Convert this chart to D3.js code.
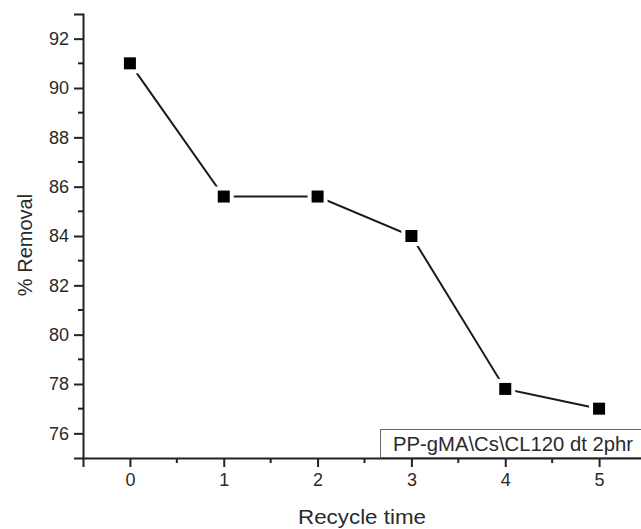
<!DOCTYPE html>
<html>
<head>
<meta charset="utf-8">
<script src="https://cdn.jsdelivr.net/npm/d3@7"></script>
<style>
  body { margin: 0; background: #fff; }
  text { font-family: "Liberation Sans", Arial, sans-serif; fill: #2a2a2a; }
</style>
</head>
<body>
<svg width="641" height="529"></svg>
<script>
// data
const cycles = [0, 1, 2, 3, 4, 5]
const removal = [91.0, 85.6, 85.6, 84.0, 77.8, 77.0]
const xTicks = [0, 1, 2, 3, 4, 5]
const yTicks = [76, 78, 80, 82, 84, 86, 88, 90, 92]
const seriesName = "PP-gMA\\Cs\\CL120 dt 2phr"

const svg = d3.select("svg")

// scales
const xScale = d3.scaleLinear().domain([-0.5, 5.5]).range([83, 646])
const yScale = d3.scaleLinear().domain([75, 93]).range([458, 14])

// y axis
const yAxis = svg.append("g")
    .attr("transform", "translate(83,0)")
    .call(d3.axisLeft(yScale).tickValues(yTicks).tickSize(9).tickPadding(5).tickFormat(d3.format("d")))
    .attr("font-size", 18)
yAxis.select(".domain").attr("stroke", "#222").attr("stroke-width", 2)
yAxis.selectAll(".tick line").attr("stroke", "#222").attr("stroke-width", 2)
yAxis.selectAll("text").style("font-size", "18px").attr("fill", "#333")

// y minor ticks
svg.append("g").selectAll("line")
    .data(d3.range(77, 93, 2))
    .join("line")
    .attr("x1", 78).attr("x2", 83)
    .attr("y1", d => yScale(d)).attr("y2", d => yScale(d))
    .attr("stroke", "#222").attr("stroke-width", 2)

// x axis
const xAxis = svg.append("g")
    .attr("transform", "translate(0,458)")
    .call(d3.axisBottom(xScale).tickValues(xTicks).tickSize(9).tickPadding(6).tickFormat(d3.format("d")))
    .attr("font-size", 18)
xAxis.select(".domain").attr("stroke", "#222").attr("stroke-width", 2)
xAxis.selectAll(".tick line").attr("stroke", "#222").attr("stroke-width", 2)
xAxis.selectAll("text").style("font-size", "18px").attr("fill", "#333")

// x minor ticks
svg.append("g").selectAll("line")
    .data([0.5, 1.5, 2.5, 3.5, 4.5])
    .join("line")
    .attr("x1", d => xScale(d)).attr("x2", d => xScale(d))
    .attr("y1", 458).attr("y2", 463)
    .attr("stroke", "#222").attr("stroke-width", 2)

// legend box
svg.append("rect")
    .attr("x", 380.5).attr("y", 429.5)
    .attr("width", 270).attr("height", 28)
    .attr("fill", "#fff").attr("stroke", "#666").attr("stroke-width", 1)
svg.append("text")
    .attr("x", 393).attr("y", 451)
    .attr("textLength", 240)
    .attr("lengthAdjust", "spacingAndGlyphs")
    .style("font-size", "21px")
    .text(seriesName)

// line
const points = cycles.map((c, i) => [c, removal[i]])
svg.append("path")
    .datum(points)
    .attr("fill", "none")
    .attr("stroke", "#1a1a1a")
    .attr("stroke-width", 2)
    .attr("d", d3.line().x(d => xScale(d[0])).y(d => yScale(d[1])))

// gap around markers then markers
svg.append("g").selectAll("rect")
    .data(points)
    .join("rect")
    .attr("x", d => xScale(d[0]) - 10).attr("y", d => yScale(d[1]) - 10)
    .attr("width", 20).attr("height", 20)
    .attr("fill", "#fff")
svg.append("g").selectAll("rect")
    .data(points)
    .join("rect")
    .attr("x", d => xScale(d[0]) - 6).attr("y", d => yScale(d[1]) - 6)
    .attr("width", 12).attr("height", 12)
    .attr("fill", "#000")

// axis titles
svg.append("text")
    .attr("transform", "translate(32,245) rotate(-90)")
    .attr("text-anchor", "middle")
    .style("font-size", "20px")
    .text("% Removal")
svg.append("text")
    .attr("x", 298).attr("y", 524)
    .attr("textLength", 128)
    .attr("lengthAdjust", "spacingAndGlyphs")
    .style("font-size", "21px")
    .text("Recycle time")
</script>
</body>
</html>
